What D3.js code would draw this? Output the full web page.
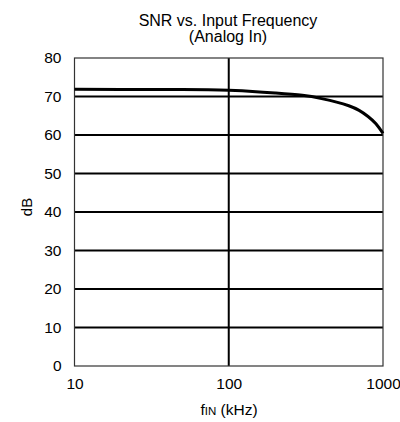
<!DOCTYPE html>
<html><head><meta charset="utf-8">
<script src="https://cdn.jsdelivr.net/npm/d3@7"></script>
<style>body{margin:0;background:#fff}svg{display:block}</style>
</head><body>
<script>
const freqs = [10,20,50,100,150,200,300,400,500,600,700,800,900,1000];
const snr = [71.9,71.85,71.8,71.6,71.25,70.9,70.3,69.45,68.55,67.6,66.4,64.8,62.9,60.4];
const yTicks = [0,10,20,30,40,50,60,70,80];
const xTicks = [10,100,1000];
const titleLines = ["SNR vs. Input Frequency","(Analog In)"];

const W=400,H=422, m={l:74.5,r:383,t:58,b:366};
const FONT="'Liberation Sans', Arial, sans-serif";
const svg=d3.select("body").append("svg").attr("width",W).attr("height",H)
  .style("font-family",FONT);
const x=d3.scaleLog().domain([10,1000]).range([m.l,m.r]);
const y=d3.scaleLinear().domain([0,80]).range([m.b,m.t]);

// grid
svg.append("g").selectAll("line").data(yTicks.filter(d=>d>0&&d<80)).join("line")
  .attr("x1",m.l).attr("x2",m.r).attr("y1",d=>y(d)).attr("y2",d=>y(d))
  .attr("stroke","#000").attr("stroke-width",2);
svg.append("g").selectAll("line").data(xTicks.filter(d=>d>10&&d<1000)).join("line")
  .attr("y1",m.t).attr("y2",m.b).attr("x1",d=>x(d)).attr("x2",d=>x(d))
  .attr("stroke","#000").attr("stroke-width",2);
// frame
svg.append("rect").attr("x",m.l).attr("y",m.t).attr("width",m.r-m.l).attr("height",m.b-m.t)
  .attr("fill","none").attr("stroke","#333").attr("stroke-width",1.2);

// axes labels via d3 axes
const yAxis=svg.append("g").attr("transform",`translate(${m.l},0)`)
  .call(d3.axisLeft(y).tickValues(yTicks).tickSize(0).tickPadding(13));
yAxis.select(".domain").remove();
yAxis.selectAll("text").attr("font-size",15.5).attr("fill","#000").attr("font-family",FONT);
const xAxis=svg.append("g").attr("transform",`translate(0,${m.b})`)
  .call(d3.axisBottom(x).tickValues(xTicks).tickFormat(d3.format("d")).tickSize(0).tickPadding(12));
xAxis.select(".domain").remove();
xAxis.selectAll("text").attr("font-size",15.5).attr("fill","#000").attr("font-family",FONT);

// curve
const line=d3.line().x((d,i)=>x(freqs[i])).y(d=>y(d)).curve(d3.curveNatural);
svg.append("path").datum(snr).attr("d",line).attr("fill","none")
  .attr("stroke","#000").attr("stroke-width",3);

// title
svg.append("g").selectAll("text").data(titleLines).join("text")
  .attr("x",228).attr("y",(d,i)=>26+i*16).attr("text-anchor","middle")
  .attr("font-size",16).text(d=>d);

// y label
svg.append("text").attr("transform","translate(32,207) rotate(-90)")
  .attr("text-anchor","middle").attr("font-size",15).text("dB");

// x label
const xl=svg.append("text").attr("x",229).attr("y",415).attr("text-anchor","middle").attr("font-size",15.5);
xl.append("tspan").text("f");
xl.append("tspan").attr("font-size",11.5).text("IN");
xl.append("tspan").text(" (kHz)");
</script>
</body></html>
